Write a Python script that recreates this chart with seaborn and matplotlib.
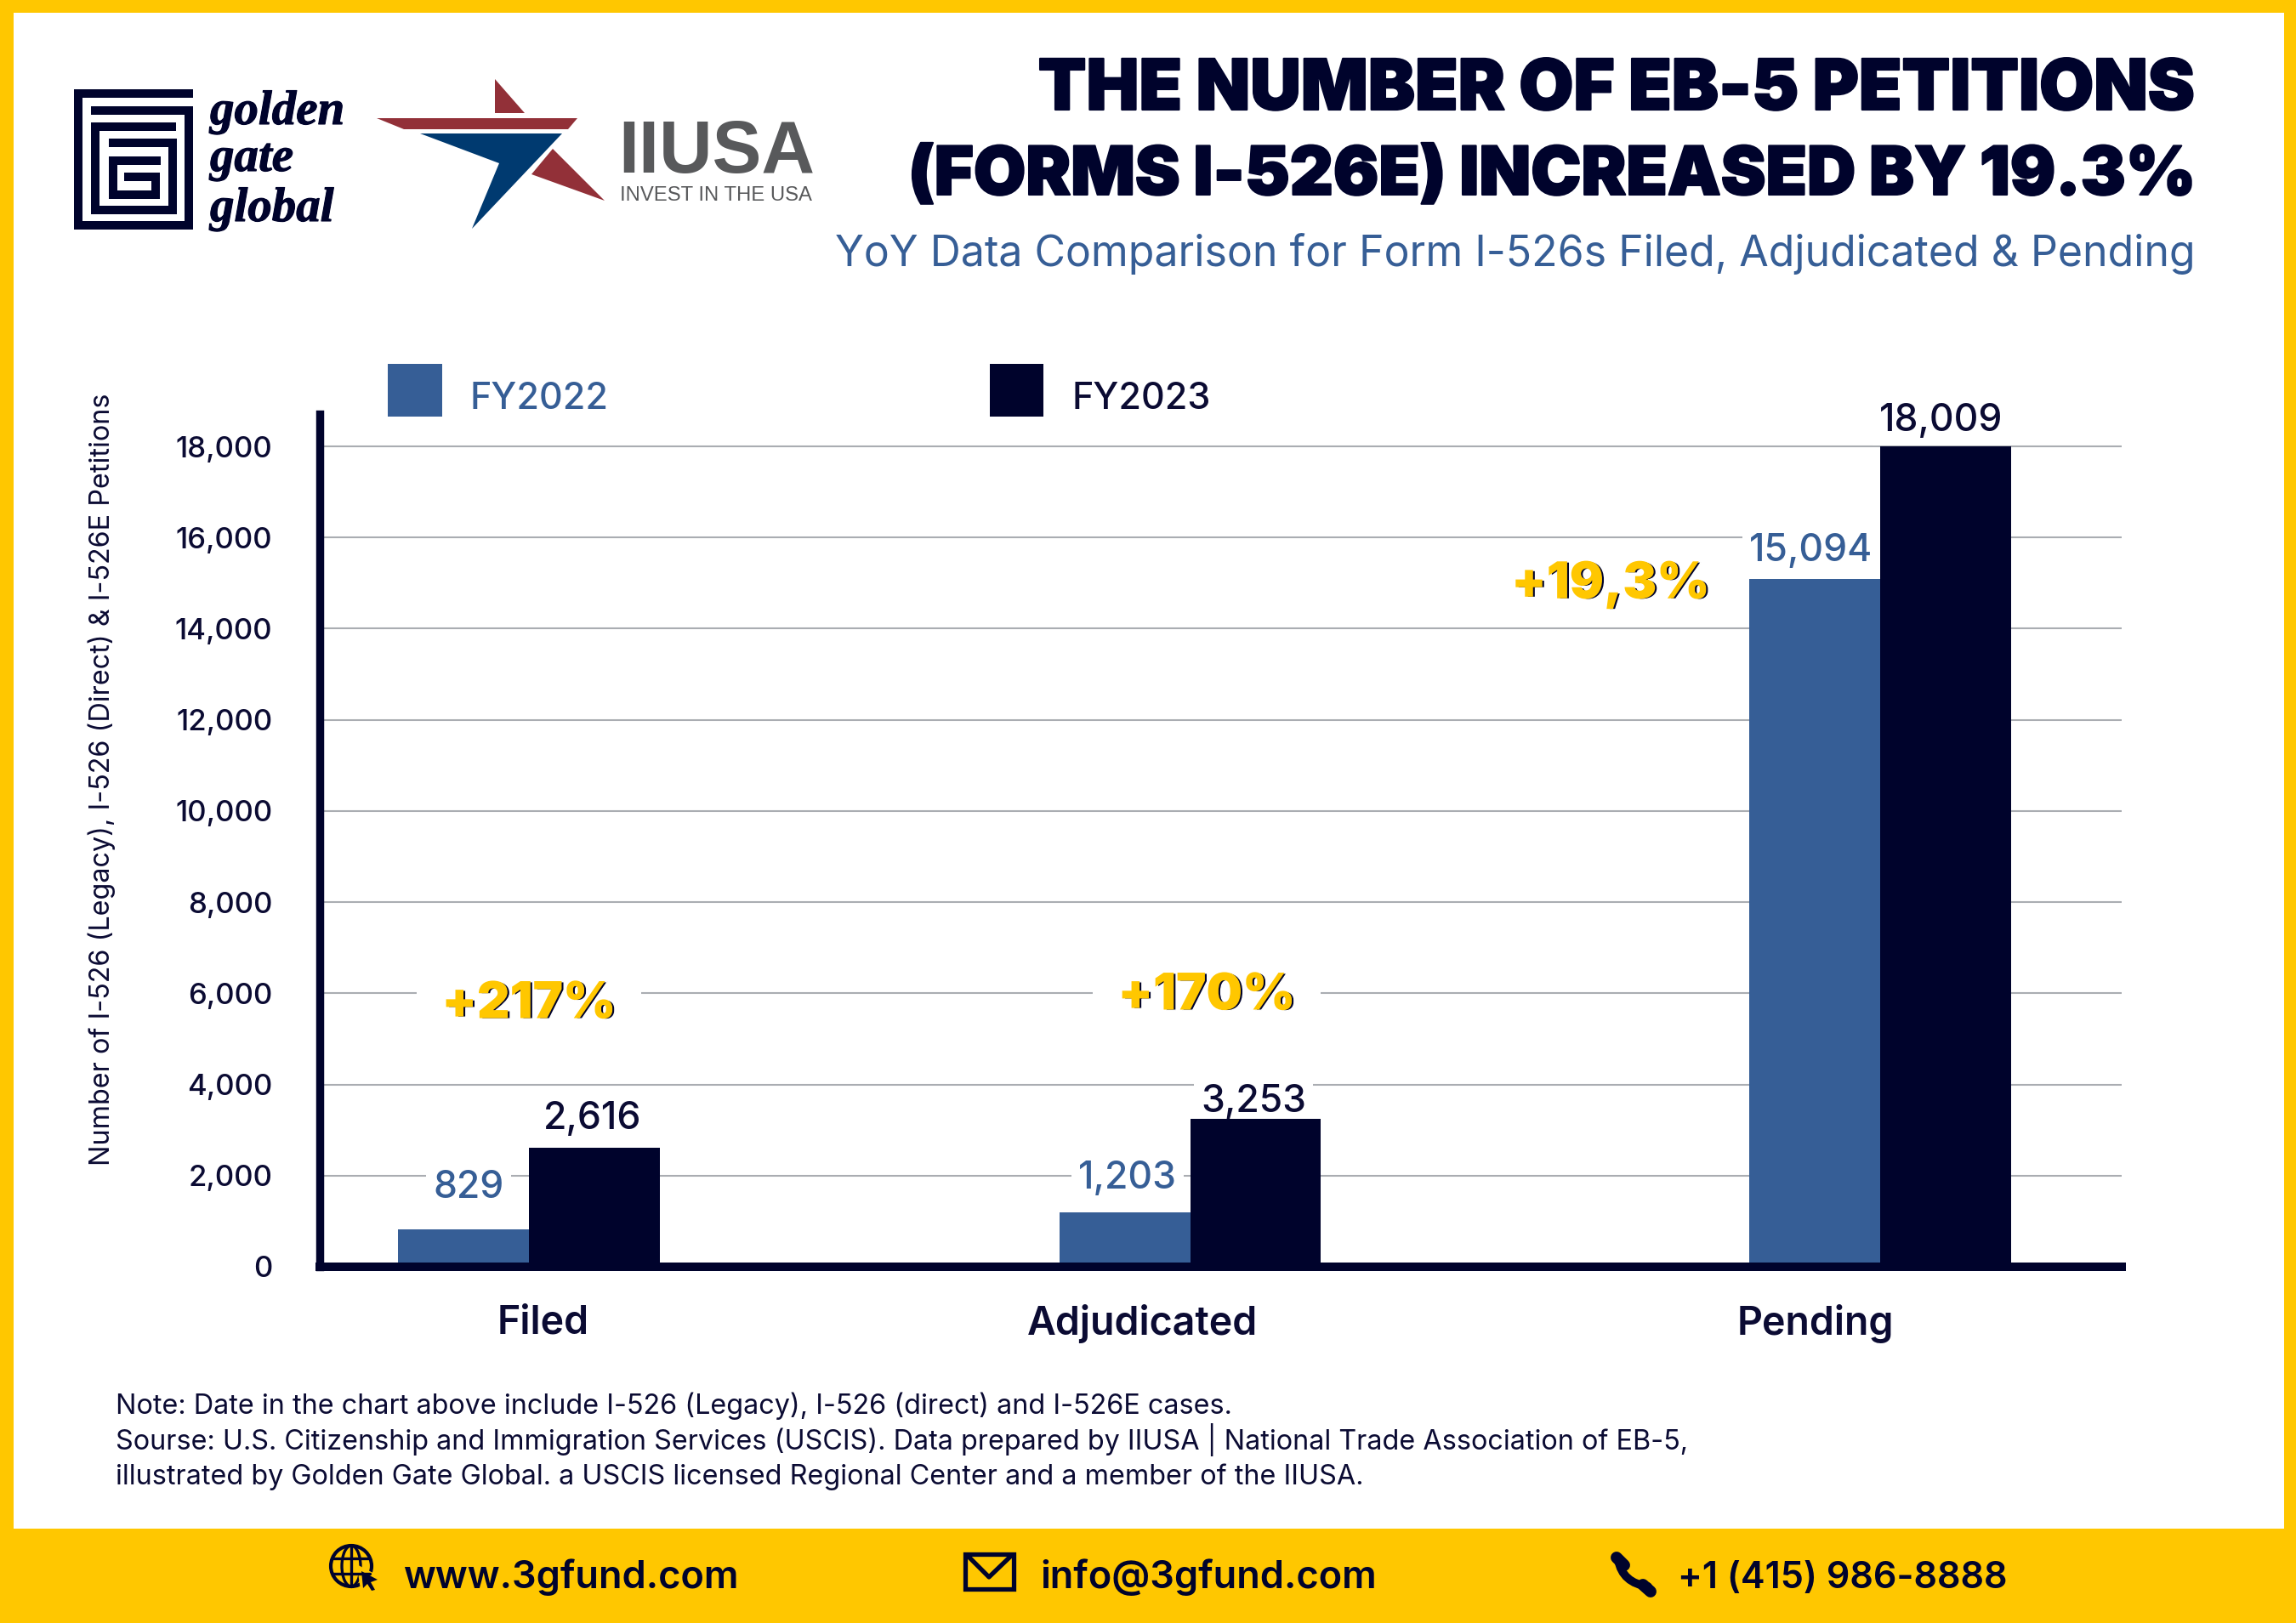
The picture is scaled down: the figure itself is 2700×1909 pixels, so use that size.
import matplotlib
matplotlib.use("Agg")
import matplotlib.pyplot as plt
import matplotlib.patheffects as pe
from matplotlib.lines import Line2D
from matplotlib.patches import Circle, Ellipse, PathPatch, Polygon, Rectangle
from matplotlib.path import Path
import numpy as np
import pandas as pd
import seaborn as sns

# Petition counts by stage and fiscal year
stages = ["Filed", "Adjudicated", "Pending"]
fy2022 = [829, 1203, 15094]
fy2023 = [2616, 3253, 18009]
change_labels = ["+217%", "+170%", "+19,3%"]
y_ticks = [0, 2000, 4000, 6000, 8000, 10000, 12000, 14000, 16000, 18000]

NAVY = "#00032C"
INK = "#0B0B33"
BLUE = "#365E96"
YELLOW = "#FFC700"
GRID = "#AAADB2"
W, H = 2700, 1909
FONT = "Inter"

sns.set_theme(style="white")
plt.rcParams["font.family"] = [FONT, "DejaVu Sans"]

fig = plt.figure(figsize=(W / 100, H / 100), dpi=100, facecolor="white")

# Page-level layer addressed in pixels: frame, header, logos, notes, footer
page = fig.add_axes([0, 0, 1, 1], zorder=0)
page.set_xlim(0, W)
page.set_ylim(H, 0)
page.axis("off")

for x, y, w, h in [(0, 0, W, 15), (0, 0, 16, H), (2686, 0, 14, H), (0, 1798, W, 111)]:
    page.add_patch(Rectangle((x, y), w, h, color=YELLOW, lw=0))

# Chart axes; the group spacing follows the slightly uneven layout of the groups
left, right, top, bottom = 376, 2495, 487, 1490
ax = fig.add_axes([left / W, 1 - bottom / H, (right - left) / W, (bottom - top) / H],
                  zorder=1, facecolor="none")
group_pos = {"Filed": 0.0, "Adjudicated": 0.979, "Pending": 2.0}
unit_px = 794.5
origin_px = 622
df = pd.DataFrame({
    "pos": [group_pos[s] for s in stages] * 2,
    "petitions": fy2022 + fy2023,
    "year": ["FY2022"] * len(stages) + ["FY2023"] * len(stages),
})
sns.barplot(data=df, x="pos", y="petitions", hue="year", native_scale=True,
            width=0.3947, gap=0, palette=[BLUE, NAVY], saturation=1,
            linewidth=0, zorder=3, ax=ax)
ax.set_xlim((left - origin_px) / unit_px, (right - origin_px) / unit_px)
ax.set_ylim(0, (bottom - top) / (965 / 18000))
ax.set_xlabel("")
ax.set_ylabel("")

ax.set_axisbelow(True)
ax.yaxis.grid(True, color=GRID, lw=1.5)
ax.xaxis.grid(False)
ax.set_yticks(y_ticks, [f"{v:,}" for v in y_ticks])
ax.set_xticks([(639 - origin_px) / unit_px, (1343 - origin_px) / unit_px, (2135 - origin_px) / unit_px], stages)
ax.tick_params(axis="y", length=0, pad=40, labelsize=25, labelcolor=INK)
ax.tick_params(axis="x", length=0, pad=32, labelsize=33.5, labelcolor=INK)
for lbl in ax.get_xticklabels():
    lbl.set_fontweight("semibold")
for lbl in ax.get_yticklabels():
    lbl.set_fontweight("medium")
for side in ("top", "right"):
    ax.spines[side].set_visible(False)
ax.spines["left"].set_linewidth(6.8)
ax.spines["bottom"].set_linewidth(7.2)
for side in ("left", "bottom"):
    ax.spines[side].set_color(NAVY)
    ax.spines[side].set_zorder(4)

sns.move_legend(ax, "upper left", bbox_to_anchor=(456 / W, 1 - 428 / H),
                bbox_transform=fig.transFigure, ncol=2, frameon=False, title=None,
                fontsize=31, handlelength=1.48, handleheight=1.83, handletextpad=0.77,
                columnspacing=10.4, borderpad=0, borderaxespad=0)
legend = ax.get_legend()
legend.get_texts()[0].set_color(BLUE)
legend.get_texts()[1].set_color(INK)
for t in legend.get_texts():
    t.set_fontweight("medium")
    t.set_position((0, -8))

# Value labels sit under the bars in z-order, so their white backing only breaks the grid
label_spots = [(551, 1397), (1326, 1386), (2130, 648), (697, 1316), (1474, 1296), (2283, 495)]
for value, colour, (px, py) in zip(fy2022 + fy2023, [BLUE] * 3 + [INK] * 3, label_spots):
    ax.text(px, py, f"{value:,}", transform=page.transData, ha="center", va="center",
            fontsize=32, color=colour, fontweight="medium", zorder=2,
            bbox=dict(fc="white", ec="none", pad=6))

# Year-over-year change callouts
change_spots = [(622, 1182), (1419, 1172), (1894, 688)]
shadow = [pe.PathPatchEffect(offset=(2, -0.5), facecolor=NAVY), pe.Normal()]
for text, (px, py), pad in zip(change_labels, change_spots, (21, 21, 0)):
    ax.text(px, py, text, transform=page.transData, ha="center", va="center",
            fontsize=43, color=YELLOW, fontweight="black", zorder=2, path_effects=shadow,
            bbox=dict(fc="white", ec="none", pad=pad) if pad else None)

page.text(120, 917, "Number of I-526 (Legacy), I-526 (Direct) & I-526E Petitions", rotation=90,
          ha="center", va="center", fontsize=23.3, color=INK, fontweight="normal")

# Headline
heavy = [pe.withStroke(linewidth=1.5, foreground=NAVY)]
page.text(2581, 129, "THE NUMBER OF EB-5 PETITIONS", ha="right", va="baseline",
          fontsize=59.5, color=NAVY, fontweight="black", path_effects=heavy)
page.text(2583, 229, "(FORMS I-526E) INCREASED BY 19.3%", ha="right", va="baseline",
          fontsize=57, color=NAVY, fontweight="black", path_effects=heavy)
page.text(2582, 313, "YoY Data Comparison for Form I-526s Filed, Adjudicated & Pending",
          ha="right", va="baseline", fontsize=36, color=BLUE, fontweight="normal")


def logo_line(points, lw_px=10, colour=NAVY, cap="butt"):
    """Polyline given in 3x logo-space units, offset to the logo's position."""
    xs = [70 + p[0] / 3 for p in points]
    ys = [90 + p[1] / 3 for p in points]
    page.add_line(Line2D(xs, ys, color=colour, lw=lw_px * 0.72, solid_capstyle=cap,
                         solid_joinstyle="miter"))


# Golden Gate Global mark: three nested square spirals
logo_line([(472, 61), (66, 61), (66, 525), (457, 525), (457, 120), (112, 120)])
logo_line([(412, 178), (127, 178), (127, 470), (398, 470), (398, 235), (175, 235)])
logo_line([(357, 297), (188, 297), (188, 418), (340, 418), (340, 355), (228, 355)])
serif = ["Liberation Serif", "DejaVu Serif"]
for word, base in zip(["golden", "gate", "global"], [146, 201, 260]):
    page.text(247, base, word, family=serif, style="italic", fontweight="bold",
              fontsize=41, color=NAVY, ha="left", va="baseline",
              path_effects=[pe.withStroke(linewidth=0.8, foreground=NAVY)])

# IIUSA star
RED = "#923038"
STAR_BLUE = "#003A70"
for pts, col in [
    ([(582, 93), (617, 133), (582, 133)], RED),
    ([(443, 139), (679, 139), (668, 152), (475, 152)], RED),
    ([(494, 157), (661, 157), (555, 269), (587, 192)], STAR_BLUE),
    ([(650, 175), (711, 236), (625, 205)], RED),
]:
    page.add_patch(Polygon(pts, closed=True, color=col, lw=0))
page.text(727, 203, "IIUSA", family=["Liberation Sans", "DejaVu Sans"], fontweight="bold",
          fontsize=62.5, color="#58595B", ha="left", va="baseline")
page.text(729, 236, "INVEST IN THE USA", family=["Liberation Sans", "DejaVu Sans"],
          fontsize=17.2, color="#58595B", ha="left", va="baseline")

# Notes under the chart
notes = [
    "Note: Date in the chart above include I-526 (Legacy), I-526 (direct) and I-526E cases.",
    "Sourse: U.S. Citizenship and Immigration Services (USCIS). Data prepared by IIUSA | National Trade Association of EB-5,",
    "illustrated by Golden Gate Global. a USCIS licensed Regional Center and a member of the IIUSA.",
]
for line, base in zip(notes, [1663, 1705, 1746]):
    page.text(136, base, line, fontsize=23.3, color=INK, ha="left", va="baseline")

# Footer contacts
for x, text, size in [(474, "www.3gfund.com", 32.5), (1223, "info@3gfund.com", 32.5),
                      (1973, "+1 (415) 986-8888", 31)]:
    page.text(x, 1868, text, fontsize=size, color=NAVY, fontweight="semibold", ha="left", va="baseline")

# Globe with pointer
lw = 3.0
page.add_patch(Circle((413, 1842), 24, fc="none", ec=NAVY, lw=lw))
page.add_patch(Ellipse((413, 1842), 22, 48, fc="none", ec=NAVY, lw=lw * 0.8))
page.add_line(Line2D([413, 413], [1818, 1866], color=NAVY, lw=lw * 0.8))
for yy in (1833, 1851):
    page.add_line(Line2D([391, 435], [yy, yy], color=NAVY, lw=lw * 0.8))
page.add_patch(Polygon([(423, 1845), (448, 1858), (440, 1862), (445, 1872), (438, 1874), (433, 1865), (427, 1871)],
                       closed=True, fc=YELLOW, ec=YELLOW, lw=4))
page.add_patch(Polygon([(425, 1848), (444, 1858), (436, 1861), (441, 1870), (437, 1871), (432, 1863), (427, 1868)],
                       closed=True, fc=NAVY, lw=0))

# Envelope
page.add_patch(Rectangle((1135, 1828), 57, 41, fc="none", ec=NAVY, lw=3.8))
page.add_line(Line2D([1139, 1163, 1188], [1831, 1855, 1831], color=NAVY, lw=3.8))

# Telephone handset
handset = Path([(1903, 1835), (1908, 1862), (1938, 1866)], [Path.MOVETO, Path.CURVE3, Path.CURVE3])
page.add_patch(PathPatch(handset, fc="none", ec=NAVY, lw=7, capstyle="round"))
page.add_line(Line2D([1901, 1910], [1832, 1841], color=NAVY, lw=10, solid_capstyle="round"))
page.add_line(Line2D([1932, 1941], [1864, 1872], color=NAVY, lw=10, solid_capstyle="round"))

fig.savefig("out.png", dpi=100, facecolor="white")
